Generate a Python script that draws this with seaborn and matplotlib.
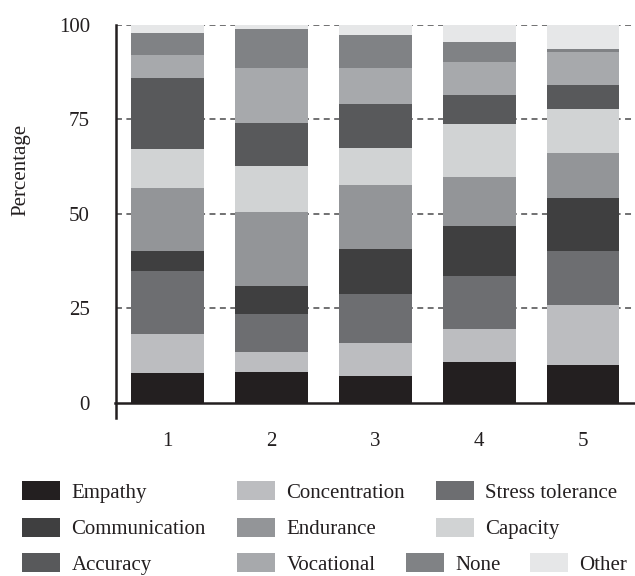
import numpy as np
import pandas as pd
import matplotlib
matplotlib.use("Agg")
import matplotlib.pyplot as plt
import seaborn as sns
from matplotlib.patches import Patch
from matplotlib.ticker import FixedLocator

# data (percent per group, stacked bottom -> top)
groups = ["1", "2", "3", "4", "5"]
empathy = [7.9, 8.2, 7.1, 10.9, 10.1]
concentration = [10.4, 5.3, 8.8, 8.7, 15.8]
stress_tolerance = [16.7, 10.1, 13.0, 14.0, 14.3]
communication = [5.3, 7.4, 11.9, 13.3, 14.1]
endurance = [16.6, 19.6, 16.9, 12.9, 11.9]
capacity = [10.4, 12.2, 9.8, 14.1, 11.6]
accuracy = [18.8, 11.3, 11.6, 7.7, 6.4]
vocational = [6.0, 14.6, 9.6, 8.7, 8.7]
none = [5.9, 10.3, 8.7, 5.3, 0.8]
other = [2.0, 1.0, 2.6, 4.4, 6.3]

series = {
    "Empathy": empathy,
    "Concentration": concentration,
    "Stress tolerance": stress_tolerance,
    "Communication": communication,
    "Endurance": endurance,
    "Capacity": capacity,
    "Accuracy": accuracy,
    "Vocational": vocational,
    "None": none,
    "Other": other,
}
colors = {
    "Empathy": "#231f20",
    "Concentration": "#bcbdc0",
    "Stress tolerance": "#6d6e71",
    "Communication": "#3f3f40",
    "Endurance": "#939598",
    "Capacity": "#d1d3d4",
    "Accuracy": "#58595b",
    "Vocational": "#a7a9ac",
    "None": "#808285",
    "Other": "#e6e7e8",
}

sns.set_style("white")
plt.rcParams["font.family"] = ["Liberation Serif", "DejaVu Serif"]
ink = "#231f20"

fig = plt.figure(figsize=(6.35, 5.76), dpi=100)
ax = fig.add_axes([115.5 / 635, 1 - 418 / 576, 519.5 / 635, 393 / 576])

# stacked bars via seaborn, drawing the cumulative totals from the top down
df = pd.DataFrame(series, index=groups)
cum = df.cumsum(axis=1)
names = list(series.keys())
for name in reversed(names):
    sns.barplot(x=groups, y=cum[name].values, color=colors[name],
                width=0.7, saturation=1, ax=ax, linewidth=0, zorder=2)

# spine position first: moving it resets the tick objects
sns.despine(ax=ax)
ax.spines["bottom"].set_position(("data", 0))
for s in ["left", "bottom"]:
    ax.spines[s].set_linewidth(1.8)
    ax.spines[s].set_color(ink)
ax.spines["left"].set_zorder(3)

ax.set_xlim(-0.5, 4.5)
ax.set_ylim(-4, 100)
ax.set_yticks([0, 25, 50, 75, 100])
ax.set_yticklabels(["0", "25", "50", "75", "100"])
ax.set_xticks(range(5))
ax.set_xticklabels(groups)
ax.xaxis.set_minor_locator(FixedLocator([0.5, 1.5, 2.5, 3.5, 4.5]))
ax.tick_params(axis="x", which="major", length=0, pad=21, labelsize=15, labelcolor=ink)
ax.tick_params(axis="x", which="minor", direction="out", length=11, width=1.4, color=ink)
ax.tick_params(axis="y", direction="out", length=11.5, width=1.8, color=ink, pad=7,
               labelsize=15, labelcolor=ink)

for y in [25, 50, 75, 100]:
    ax.axhline(y, color="#4a4a4c", linestyle=(0, (3.9, 2.9)), linewidth=1.1, zorder=1)

ax.set_xlabel("")
ax.set_ylabel("Percentage", fontsize=15, color=ink)
ax.yaxis.set_label_coords(-0.163, 0.631)

# legend laid out as in the reference (3 rows, last row with 4 items)
fs = 15
fs_px = fs * 100 / 72
hh = (19 / fs_px - 0.245) / 0.65
legend_pos = {
    "Empathy": (22, 492), "Concentration": (237, 492), "Stress tolerance": (436, 492),
    "Communication": (22, 528.5), "Endurance": (237, 528.5), "Capacity": (436, 528.5),
    "Accuracy": (22, 564), "Vocational": (237, 564), "None": (406, 564), "Other": (530, 564),
}
for name in names:
    px, py = legend_pos[name]
    leg = fig.legend(handles=[Patch(facecolor=colors[name], edgecolor="none", label=name)],
                     loc="center left", bbox_to_anchor=(px / 635, 1 - py / 576),
                     frameon=False, fontsize=fs, borderpad=0, borderaxespad=0,
                     handlelength=38 / fs_px, handleheight=hh, handletextpad=0.55)
    for t in leg.get_texts():
        t.set_color(ink)

fig.savefig("out.png", dpi=100)
